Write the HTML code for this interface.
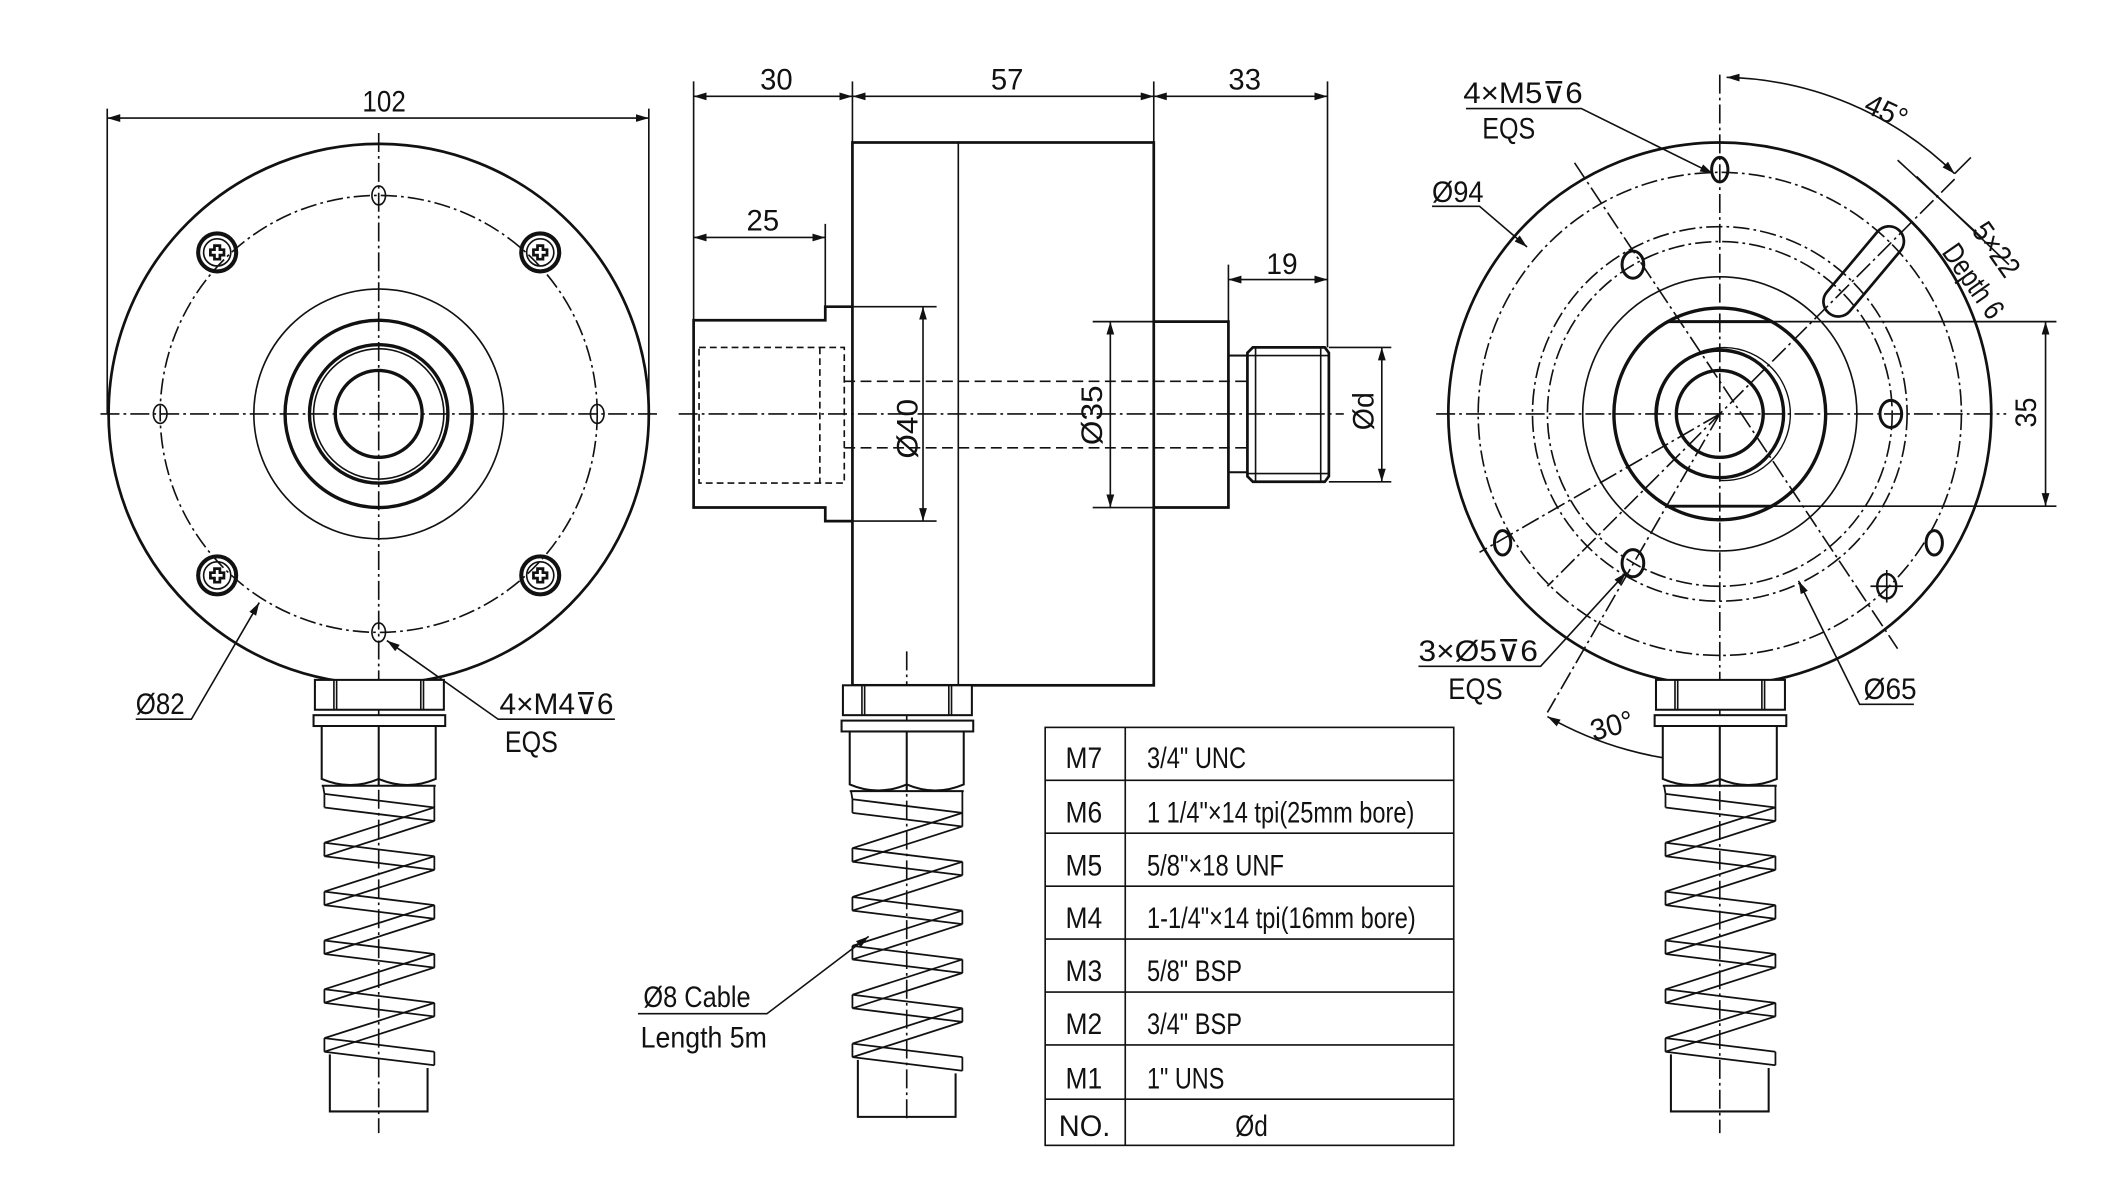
<!DOCTYPE html>
<html><head><meta charset="utf-8"><style>
html,body{margin:0;padding:0;background:#fff;}
svg{display:block}
text{font-family:"Liberation Sans","DejaVu Sans",sans-serif;fill:#111;}
</style></head><body>
<svg width="2127" height="1182" viewBox="0 0 1567 871" preserveAspectRatio="none" xmlns="http://www.w3.org/2000/svg">
<defs>
<marker id="a" viewBox="0 0 10 10" refX="10" refY="5" markerWidth="8" markerHeight="8" orient="auto-start-reverse"><path d="M0,2 L10,5 L0,8 z" fill="#111"/></marker>
<g id="gland" fill="#fff" stroke="#111">
 <rect x="-47" y="0" width="95" height="22" stroke-width="1.5"/>
 <line x1="-33" y1="0" x2="-33" y2="22"/><line x1="-31" y1="0" x2="-31" y2="22"/>
 <line x1="33" y1="0" x2="33" y2="22"/><line x1="31" y1="0" x2="31" y2="22"/>
 <rect x="-48" y="26" width="97" height="8" stroke-width="1.5"/>
 <path d="M-42,34 L-42,73 Q-21,82 0,73 Q21,82 42,73 L42,34 Z" stroke-width="1.5"/>
 <line x1="-42" y1="78" x2="42" y2="78" stroke-width="1.5"/>
 <line x1="0" y1="34" x2="0" y2="78" stroke-width="1.5"/>
 <path d="M-41,78 L-40,84 M41,78 L41,94" fill="none" stroke-width="1.3"/>
 <path fill="none" stroke-width="1.3" d="M-40,84 L41,94 L-40,120 L41,130 L-40,156 L41,166 L-40,192 L41,202 L-40,228 L41,238 L-40,264 L41,274"/>
 <path fill="none" stroke-width="1.3" d="M-40,94 L41,104 L-40,130 L41,140 L-40,166 L41,176 L-40,202 L41,212 L-40,238 L41,248 L-40,274 L41,284"/>
 <path d="M-40,84 L-40,94 M-40,120 L-40,130 M-40,156 L-40,166 M-40,192 L-40,202 M-40,228 L-40,238 M-40,264 L-40,274 M41,94 L41,104 M41,130 L41,140 M41,166 L41,176 M41,202 L41,212 M41,238 L41,248 M41,274 L41,284" stroke-width="1.3"/>
 <path d="M-36,276 L-36,318 L36,318 L36,286" fill="none" stroke-width="1.5"/>
</g>
<g id="screw" fill="none" stroke="#111"><circle r="14" stroke-width="3"/><circle r="10"/><path d="M-5,-2 L-2,-2 L-2,-5 L2,-5 L2,-2 L5,-2 L5,2 L2,2 L2,5 L-2,5 L-2,2 L-5,2 Z" stroke-width="2"/></g>
</defs>
<g fill="none" stroke="#111" stroke-width="1.2">
<!-- LEFT VIEW -->
<circle cx="279" cy="305" r="199" stroke-width="2"/>
<circle cx="279" cy="305" r="161" stroke-dasharray="12 3 2 3"/>
<circle cx="279" cy="305" r="92"/>
<circle cx="279" cy="305" r="69" stroke-width="2.5"/>
<circle cx="279" cy="305" r="51" stroke-width="2.5"/>
<circle cx="279" cy="305" r="48"/>
<circle cx="279" cy="305" r="32" stroke-width="2.5"/>
<line x1="74" y1="305" x2="484" y2="305" stroke-dasharray="14 3 2 3"/>
<line x1="279" y1="98" x2="279" y2="835" stroke-dasharray="14 3 2 3"/>
<ellipse cx="279" cy="144" rx="5" ry="7"/><ellipse cx="118" cy="305" rx="5" ry="7"/><ellipse cx="440" cy="305" rx="5" ry="7"/><ellipse cx="279" cy="466" rx="5" ry="7"/>
<use href="#screw" x="160" y="186"/><use href="#screw" x="398" y="186"/><use href="#screw" x="160" y="424"/><use href="#screw" x="398" y="424"/>
<line x1="79" y1="80" x2="79" y2="305"/><line x1="478" y1="80" x2="478" y2="305"/>
<line x1="79" y1="87" x2="478" y2="87" marker-start="url(#a)" marker-end="url(#a)"/>
<polyline points="100,530 141,530 191,444" marker-end="url(#a)"/>
<polyline points="453,530 367,530 285,472" marker-end="url(#a)"/>
<use href="#gland" x="279" y="501"/>

<!-- MIDDLE VIEW -->
<rect x="628" y="105" width="222" height="400" stroke-width="2"/>
<line x1="706" y1="105" x2="706" y2="505"/>
<polyline points="628,226 608,226 608,236 511,236 511,374 608,374 608,384 628,384" stroke-width="2"/>
<rect x="515" y="256" width="107" height="100" stroke-dasharray="5 3"/>
<line x1="604" y1="256" x2="604" y2="356" stroke-dasharray="5 3"/>
<line x1="622" y1="281" x2="920" y2="281" stroke-dasharray="8 4"/>
<line x1="622" y1="330" x2="920" y2="330" stroke-dasharray="8 4"/>
<polyline points="850,237 905,237 905,374 850,374" stroke-width="2"/>
<rect x="905" y="262" width="14" height="86" stroke-width="1.5"/>
<path d="M923,256 L976,256 L979,260 L979,351 L976,355 L923,355 L919,351 L919,260 Z" stroke-width="2"/>
<line x1="925" y1="256" x2="925" y2="355"/><line x1="973" y1="256" x2="973" y2="355"/>
<line x1="919" y1="262" x2="979" y2="262"/><line x1="919" y1="349" x2="979" y2="349"/>
<line x1="500" y1="305" x2="990" y2="305" stroke-dasharray="14 3 2 3"/>
<line x1="668" y1="480" x2="668" y2="825" stroke-dasharray="14 3 2 3"/>
<line x1="511" y1="60" x2="511" y2="236"/><line x1="628" y1="60" x2="628" y2="105"/><line x1="850" y1="60" x2="850" y2="105"/><line x1="978" y1="60" x2="978" y2="256"/>
<line x1="511" y1="71" x2="628" y2="71" marker-start="url(#a)" marker-end="url(#a)"/>
<line x1="628" y1="71" x2="850" y2="71" marker-start="url(#a)" marker-end="url(#a)"/>
<line x1="850" y1="71" x2="978" y2="71" marker-start="url(#a)" marker-end="url(#a)"/>
<line x1="608" y1="165" x2="608" y2="226"/>
<line x1="511" y1="175" x2="608" y2="175" marker-start="url(#a)" marker-end="url(#a)"/>
<line x1="905" y1="195" x2="905" y2="237"/>
<line x1="905" y1="206" x2="978" y2="206" marker-start="url(#a)" marker-end="url(#a)"/>
<line x1="628" y1="226" x2="690" y2="226"/><line x1="628" y1="384" x2="690" y2="384"/>
<line x1="680" y1="226" x2="680" y2="384" marker-start="url(#a)" marker-end="url(#a)"/>
<line x1="805" y1="237" x2="850" y2="237"/><line x1="805" y1="374" x2="850" y2="374"/>
<line x1="818" y1="237" x2="818" y2="374" marker-start="url(#a)" marker-end="url(#a)"/>
<line x1="979" y1="256" x2="1025" y2="256"/><line x1="979" y1="355" x2="1025" y2="355"/>
<line x1="1018" y1="256" x2="1018" y2="355" marker-start="url(#a)" marker-end="url(#a)"/>
<use href="#gland" x="668" y="505"/>
<polyline points="470,747 565,747 640,690" marker-end="url(#a)"/>

<!-- RIGHT VIEW -->
<circle cx="1267" cy="305" r="200" stroke-width="2"/>
<circle cx="1267" cy="305" r="178" stroke-dasharray="12 3 2 3"/>
<circle cx="1267" cy="305" r="138" stroke-dasharray="12 3 2 3"/>
<circle cx="1267" cy="305" r="127" stroke-dasharray="12 3 2 3"/>
<circle cx="1267" cy="305" r="101"/>
<path d="M1228,237 L1306,237 M1228,373 L1306,373" stroke-width="2.2"/>
<circle cx="1267" cy="305" r="78" stroke-width="2.5"/>
<path d="M1221,305 A49,49 0 1 1 1267,354" stroke-width="1"/>
<circle cx="1267" cy="305" r="47" stroke-width="2.5"/>
<circle cx="1267" cy="305" r="32" stroke-width="2.5"/>
<line x1="1058" y1="305" x2="1478" y2="305" stroke-dasharray="14 3 2 3"/>
<line x1="1267" y1="55" x2="1267" y2="835" stroke-dasharray="14 3 2 3"/>
<line x1="1160" y1="120" x2="1398" y2="478" stroke-dasharray="14 3 2 3"/>
<line x1="1440" y1="132" x2="1140" y2="432" stroke-dasharray="14 3 2 3"/>
<line x1="1267" y1="305" x2="1090" y2="407" stroke-dasharray="14 3 2 3"/>
<line x1="1267" y1="305" x2="1140" y2="525" stroke-dasharray="14 3 2 3"/>
<g stroke-width="2.2">
<ellipse cx="1267" cy="125" rx="6" ry="9"/>
<ellipse cx="1203" cy="195" rx="8" ry="10"/>
<ellipse cx="1203" cy="415" rx="8" ry="10"/>
<ellipse cx="1393" cy="305" rx="8" ry="10"/>
<ellipse cx="1107" cy="400" rx="6" ry="9"/>
<ellipse cx="1425" cy="400" rx="6" ry="9"/>
</g>
<ellipse cx="1390" cy="432" rx="7" ry="9" stroke-width="1.8"/>
<line x1="1378" y1="432" x2="1402" y2="432"/><line x1="1390" y1="420" x2="1390" y2="444"/>
<rect x="1362" y="160" width="22" height="80" rx="11" transform="rotate(40 1373 200)" stroke-width="2"/>
<line x1="1306" y1="237" x2="1515" y2="237"/><line x1="1306" y1="373" x2="1515" y2="373"/>
<line x1="1507" y1="237" x2="1507" y2="373" marker-start="url(#a)" marker-end="url(#a)"/>
<path d="M1272,57 A248,248 0 0 1 1440,128" marker-start="url(#a)" marker-end="url(#a)"/>
<line x1="1440" y1="128" x2="1452" y2="116"/>
<line x1="1398" y1="118" x2="1460" y2="175"/><line x1="1412" y1="130" x2="1480" y2="195"/>
<path d="M1140,528 A260,260 0 0 0 1262,562" marker-start="url(#a)" marker-end="url(#a)"/>
<polyline points="1080,80 1165,80 1262,128" marker-end="url(#a)"/>
<polyline points="1055,152 1090,152 1125,182" marker-end="url(#a)"/>
<polyline points="1045,491 1135,491 1198,422" marker-end="url(#a)"/>
<polyline points="1410,519 1370,519 1325,428" marker-end="url(#a)"/>
<use href="#gland" x="1267" y="501"/>

<!-- TABLE -->
<rect x="770" y="536" width="301" height="308"/>
<line x1="829" y1="536" x2="829" y2="844"/>
<line x1="770" y1="575" x2="1071" y2="575"/><line x1="770" y1="614" x2="1071" y2="614"/>
<line x1="770" y1="653" x2="1071" y2="653"/><line x1="770" y1="692" x2="1071" y2="692"/>
<line x1="770" y1="731" x2="1071" y2="731"/><line x1="770" y1="770" x2="1071" y2="770"/>
<line x1="770" y1="810" x2="1071" y2="810"/>
</g>
<g font-size="22">
<text x="267" y="82" textLength="32" lengthAdjust="spacingAndGlyphs">102</text>
<text x="560" y="66" textLength="24" lengthAdjust="spacingAndGlyphs">30</text>
<text x="730" y="66" textLength="24" lengthAdjust="spacingAndGlyphs">57</text>
<text x="905" y="66" textLength="24" lengthAdjust="spacingAndGlyphs">33</text>
<text x="550" y="170" textLength="24" lengthAdjust="spacingAndGlyphs">25</text>
<text x="933" y="202" textLength="23" lengthAdjust="spacingAndGlyphs">19</text>
<text transform="translate(676,338) rotate(-90)" textLength="44" lengthAdjust="spacingAndGlyphs">Ø40</text>
<text transform="translate(812,328) rotate(-90)" textLength="44" lengthAdjust="spacingAndGlyphs">Ø35</text>
<text transform="translate(1012,317) rotate(-90)" textLength="28" lengthAdjust="spacingAndGlyphs">Ød</text>
<text transform="translate(1500,315) rotate(-90)" textLength="22" lengthAdjust="spacingAndGlyphs">35</text>
<text x="100" y="526" textLength="36" lengthAdjust="spacingAndGlyphs">Ø82</text>
<text x="368" y="526" textLength="84" lengthAdjust="spacingAndGlyphs">4×M4⊽6</text>
<text x="372" y="554" textLength="39" lengthAdjust="spacingAndGlyphs">EQS</text>
<text x="474" y="742" textLength="79" lengthAdjust="spacingAndGlyphs">Ø8 Cable</text>
<text x="472" y="772" textLength="93" lengthAdjust="spacingAndGlyphs">Length 5m</text>
<text x="1078" y="76" textLength="88" lengthAdjust="spacingAndGlyphs">4×M5⊽6</text>
<text x="1092" y="102" textLength="39" lengthAdjust="spacingAndGlyphs">EQS</text>
<text x="1055" y="149" textLength="38" lengthAdjust="spacingAndGlyphs">Ø94</text>
<text x="1045" y="487" textLength="88" lengthAdjust="spacingAndGlyphs">3×Ø5⊽6</text>
<text x="1067" y="515" textLength="40" lengthAdjust="spacingAndGlyphs">EQS</text>
<text x="1373" y="515" textLength="39" lengthAdjust="spacingAndGlyphs">Ø65</text>
<text transform="translate(1372,82) rotate(25)" textLength="32" lengthAdjust="spacingAndGlyphs">45°</text>
<text transform="translate(1174,546) rotate(-15)" textLength="32" lengthAdjust="spacingAndGlyphs">30°</text>
<text transform="translate(1452,170) rotate(55)" textLength="44" lengthAdjust="spacingAndGlyphs">5×22</text>
<text transform="translate(1430,186) rotate(55)" textLength="62" lengthAdjust="spacingAndGlyphs">Depth 6</text>
<text x="785" y="566" textLength="27" lengthAdjust="spacingAndGlyphs">M7</text><text x="845" y="566" textLength="73" lengthAdjust="spacingAndGlyphs">3/4" UNC</text>
<text x="785" y="606" textLength="27" lengthAdjust="spacingAndGlyphs">M6</text><text x="845" y="606" textLength="197" lengthAdjust="spacingAndGlyphs">1 1/4"×14 tpi(25mm bore)</text>
<text x="785" y="645" textLength="27" lengthAdjust="spacingAndGlyphs">M5</text><text x="845" y="645" textLength="101" lengthAdjust="spacingAndGlyphs">5/8"×18 UNF</text>
<text x="785" y="684" textLength="27" lengthAdjust="spacingAndGlyphs">M4</text><text x="845" y="684" textLength="198" lengthAdjust="spacingAndGlyphs">1-1/4"×14 tpi(16mm bore)</text>
<text x="785" y="723" textLength="27" lengthAdjust="spacingAndGlyphs">M3</text><text x="845" y="723" textLength="70" lengthAdjust="spacingAndGlyphs">5/8" BSP</text>
<text x="785" y="762" textLength="27" lengthAdjust="spacingAndGlyphs">M2</text><text x="845" y="762" textLength="70" lengthAdjust="spacingAndGlyphs">3/4" BSP</text>
<text x="785" y="802" textLength="27" lengthAdjust="spacingAndGlyphs">M1</text><text x="845" y="802" textLength="57" lengthAdjust="spacingAndGlyphs">1" UNS</text>
<text x="780" y="837" textLength="38" lengthAdjust="spacingAndGlyphs">NO.</text><text x="910" y="837" textLength="24" lengthAdjust="spacingAndGlyphs">Ød</text>
</g>
</svg>
</body></html>
